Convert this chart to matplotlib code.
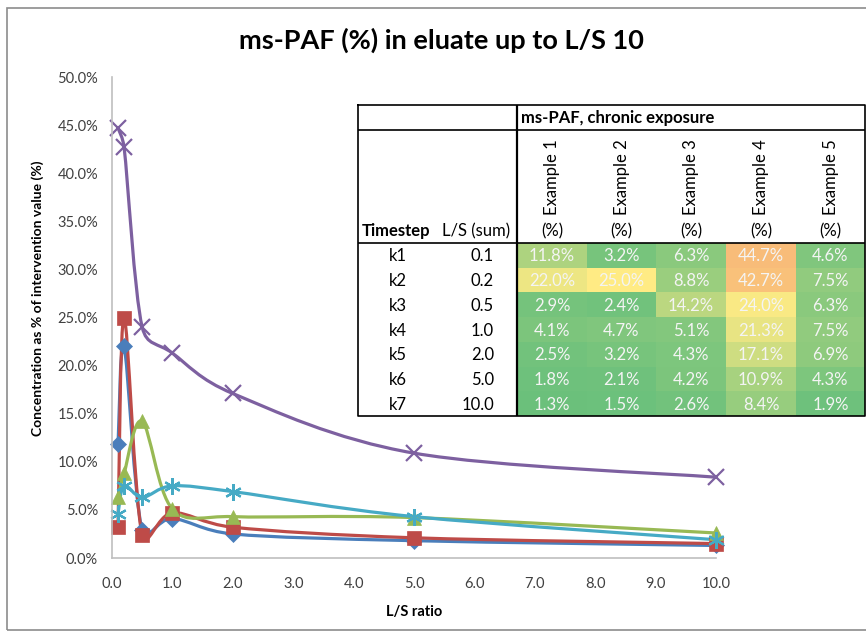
import numpy as np
import matplotlib
matplotlib.use('Agg')
import matplotlib.pyplot as plt
from matplotlib.path import Path
from matplotlib.patches import PathPatch, Rectangle
from matplotlib.colors import LinearSegmentedColormap

plt.rcParams['font.family'] = ['Lato', 'DejaVu Sans']

# data
steps = ['k1', 'k2', 'k3', 'k4', 'k5', 'k6', 'k7']
ls = [0.1, 0.2, 0.5, 1.0, 2.0, 5.0, 10.0]
names = ['Example 1', 'Example 2', 'Example 3', 'Example 4', 'Example 5']
ex1 = [11.8, 22.0, 2.9, 4.1, 2.5, 1.8, 1.3]
ex2 = [3.2, 25.0, 2.4, 4.7, 3.2, 2.1, 1.5]
ex3 = [6.3, 8.8, 14.2, 5.1, 4.3, 4.2, 2.6]
ex4 = [44.7, 42.7, 24.0, 21.3, 17.1, 10.9, 8.4]
ex5 = [4.6, 7.5, 6.3, 7.5, 6.9, 4.3, 1.9]
series = [ex1, ex2, ex3, ex4, ex5]

colors = ['#4A7EBB', '#BE4B48', '#98B954', '#7D60A0', '#46AAC5']
markers = ['D', 's', '^', 'x', (6, 2, 0)]
msizes = [8, 10, 10, 12, 12]


def smooth_path(ax, x, y):
    # excel-like bezier smoothing, done in screen space
    pts = ax.transData.transform(np.column_stack([x, y]))
    n = len(pts)
    verts = [pts[0]]
    codes = [Path.MOVETO]
    for i in range(n - 1):
        p0 = pts[max(i - 1, 0)]
        p1 = pts[i]
        p2 = pts[i + 1]
        p3 = pts[min(i + 2, n - 1)]
        seg = np.hypot(*(p2 - p1))
        d02 = np.hypot(*(p2 - p0))
        d13 = np.hypot(*(p3 - p1))
        f1 = 1 / 6 if d02 / 6 < seg / 2 else seg / (2 * d02)
        f2 = 1 / 6 if d13 / 6 < seg / 2 else seg / (2 * d13)
        c1 = p1 + (p2 - p0) * f1
        c2 = p2 - (p3 - p1) * f2
        verts += [c1, c2, p2]
        codes += [Path.CURVE4] * 3
    verts = ax.transData.inverted().transform(np.array(verts))
    return Path(verts, codes)


fig = plt.figure(figsize=(8.66, 6.32), dpi=100)
fig.patches.append(Rectangle((7 / 866, 1 - 630 / 632), 870 / 866, 622 / 632,
                             transform=fig.transFigure, fill=False,
                             edgecolor='#8c8c8c', lw=1.2))

ax = fig.add_axes([112 / 866, 1 - 558 / 632, 604 / 866, 481 / 632])
ax.set_xlim(0, 10)
ax.set_ylim(0, 50)
for s, c, m, ms in zip(series, colors, markers, msizes):
    ax.add_patch(PathPatch(smooth_path(ax, ls, s), fill=False, edgecolor=c, lw=2.3,
                           capstyle='round', joinstyle='round'))
    mew = 1.6 if m in ('x', (6, 2, 0)) else 0.5
    ax.plot(ls, s, linestyle='none', marker=m, markersize=ms, color=c,
            markeredgecolor=c, markeredgewidth=mew, clip_on=False)

ax.set_xticks(np.arange(0, 11, 1))
ax.set_xticklabels([f'{v:.1f}' for v in np.arange(0, 11, 1)])
ax.set_yticks(np.arange(0, 55, 5))
ax.set_yticklabels([f'{v:.1f}%' for v in np.arange(0, 55, 5)])
ax.tick_params(length=0, labelsize=10.5, labelcolor='#404040', pad=10)
ax.tick_params(axis='x', pad=14)
for sp in ['top', 'right']:
    ax.spines[sp].set_visible(False)
for sp in ['left', 'bottom']:
    ax.spines[sp].set_color('#bfbfbf')
    ax.spines[sp].set_linewidth(1.2)
ax.set_xlabel('L/S ratio', fontsize=10.5, fontweight='bold', labelpad=10)
ax.set_ylabel('Concentration as % of intervention value (%)', fontsize=10,
              fontweight='bold')
ax.yaxis.set_label_coords(-0.113, 0.54)
fig.text(441 / 866, 1 - 40 / 632, 'ms-PAF (%) in eluate up to L/S 10',
         ha='center', va='center', fontsize=19.5, fontweight='bold')

# table
tx0, ty0, tw, th = 358, 105, 507, 311
tax = fig.add_axes([tx0 / 866, 1 - (ty0 + th) / 632, tw / 866, th / 632])
tax.set_xlim(0, tw)
tax.set_ylim(th, 0)
tax.axis('off')
tax.add_patch(Rectangle((0, 0), tw, th, facecolor='white', edgecolor='none'))

fs = 12
cmap = LinearSegmentedColormap.from_list(
    'heat', [(0, '#63BE7B'), (25 / 45, '#FFEB84'), (1, '#F8BC79')])
col_x = [159, 229, 298, 368, 438, 507]
row_h = (th - 138) / 7
for j, s in enumerate(series):
    for i, v in enumerate(s):
        y = 138 + i * row_h
        tax.add_patch(Rectangle((col_x[j], y), col_x[j + 1] - col_x[j], row_h,
                                facecolor=cmap(min(v, 45) / 45), edgecolor='none'))
        tax.text((col_x[j] + col_x[j + 1]) / 2, y + row_h / 2 + 1, f'{v:.1f}%',
                 ha='center', va='center', fontsize=fs, color='#f4f4f4')
for i, (k, l) in enumerate(zip(steps, ls)):
    y = 138 + i * row_h + row_h / 2 + 1
    tax.text(40, y, k, ha='center', va='center', fontsize=fs)
    tax.text(136, y, f'{l:.1f}', ha='right', va='center', fontsize=fs)

for j, nm in enumerate(names):
    xc = (col_x[j] + col_x[j + 1]) / 2
    tax.text(xc, 72, nm, rotation=90, ha='center', va='center', fontsize=fs)
    tax.text(xc, 126, '(%)', ha='center', va='center', fontsize=fs)
tax.text(38, 126, 'Timestep', ha='center', va='center', fontsize=fs,
         fontweight='bold')
tax.text(118, 126, 'L/S (sum)', ha='center', va='center', fontsize=fs)
tax.text(163, 13, 'ms-PAF, chronic exposure', ha='left', va='center',
         fontsize=fs, fontweight='bold')

lw = 1.2
tax.plot([0, tw, tw, 0, 0], [0, 0, th, th, 0], color='black', lw=lw, clip_on=False)
tax.plot([0, tw], [25, 25], color='black', lw=lw)
tax.plot([0, tw], [138, 138], color='black', lw=lw)
tax.plot([159, 159], [0, th], color='black', lw=1.6)

fig.savefig('out.png', dpi=100)
